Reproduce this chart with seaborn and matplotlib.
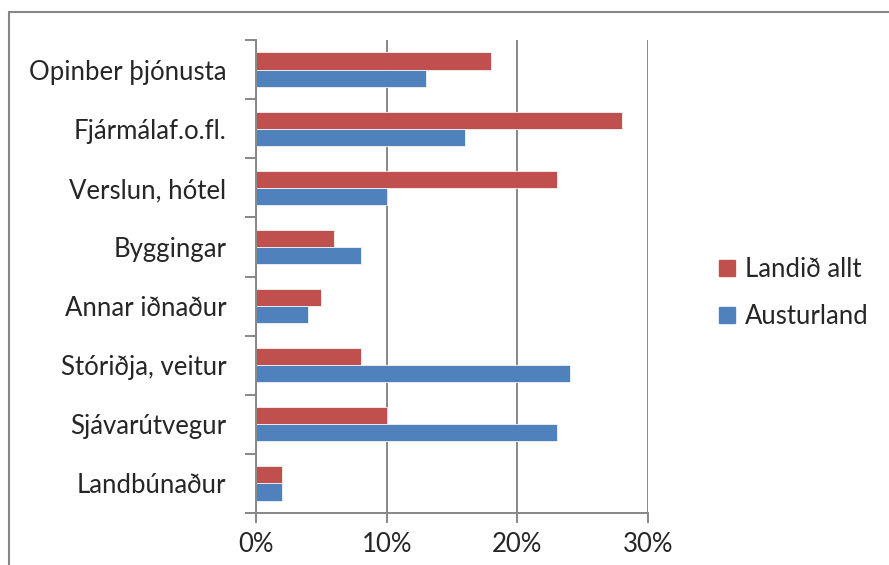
import numpy as np
import pandas as pd
import matplotlib
matplotlib.use("Agg")
import matplotlib.pyplot as plt
import seaborn as sb
from matplotlib.lines import Line2D
from matplotlib.ticker import FixedLocator, PercentFormatter

# data (share, %)
sectors = ["Opinber þjónusta", "Fjármálaf.o.fl.", "Verslun, hótel", "Byggingar",
           "Annar iðnaður", "Stóriðja, veitur", "Sjávarútvegur", "Landbúnaður"]
landid_allt = [18, 28, 23, 6, 5, 8, 10, 2]
austurland = [13, 16, 10, 8, 4, 24, 23, 2]
series_names = ["Landið allt", "Austurland"]
colors = ["#C0504D", "#4F81BD"]

df = pd.DataFrame({
    "sector": sectors * 2,
    "value": landid_allt + austurland,
    "series": [series_names[0]] * len(sectors) + [series_names[1]] * len(sectors),
})

sb.set_style("white")
plt.rcParams["font.family"] = ["Lato", "DejaVu Sans"]
fs = 18.5

fig = plt.figure(figsize=(8.89, 5.65), dpi=100)
ax = fig.add_axes([256 / 889, 1 - 513 / 565, (648 - 256) / 889, (513 - 40) / 565])

sb.barplot(data=df, y="sector", x="value", hue="series", order=sectors,
           hue_order=series_names, palette=colors, saturation=1, width=0.58, orient="h",
           edgecolor="#f2f2f2", linewidth=0.6, ax=ax, legend=True)

ax.set_xlim(0, 30)
ax.set_ylim(len(sectors) - 0.5, -0.5)
ax.set_xlabel("")
ax.set_ylabel("")

grid_col = "#878787"
ax.set_xticks([0, 10, 20, 30])
ax.xaxis.set_major_formatter(PercentFormatter(decimals=0))
ax.grid(axis="x", color=grid_col, linewidth=1.4)
ax.grid(axis="y", visible=False)
ax.set_axisbelow(True)

ax.yaxis.set_minor_locator(FixedLocator(np.arange(-0.5, len(sectors), 1)))
ax.tick_params(axis="y", which="major", length=0, pad=21.5, labelsize=fs)
ax.tick_params(axis="y", which="minor", length=8, width=1.4, color=grid_col, left=True)
ax.tick_params(axis="x", which="major", length=7, width=1.4, color=grid_col,
               bottom=True, labelsize=fs, pad=7)

for side in ["top", "right"]:
    ax.spines[side].set_visible(False)
for side in ["left", "bottom"]:
    ax.spines[side].set_color(grid_col)
    ax.spines[side].set_linewidth(1.4)

ax.get_legend().remove()
handles = [plt.Rectangle((0, 0), 1, 1, color=c) for c in colors]
fig.legend(handles, series_names, loc="center left", bbox_to_anchor=(696 / 889, 1 - 293 / 565),
           frameon=False, fontsize=fs, handlelength=0.6, handleheight=0.6,
           handletextpad=0.4, labelspacing=0.85)

# chart area border
fig.add_artist(Line2D([9 / 889, 1], [1 - 12 / 565, 1 - 12 / 565], color=grid_col, linewidth=1.5))
fig.add_artist(Line2D([9 / 889, 9 / 889], [0, 1 - 12 / 565], color=grid_col, linewidth=1.5))

fig.savefig("out.png", dpi=100)
